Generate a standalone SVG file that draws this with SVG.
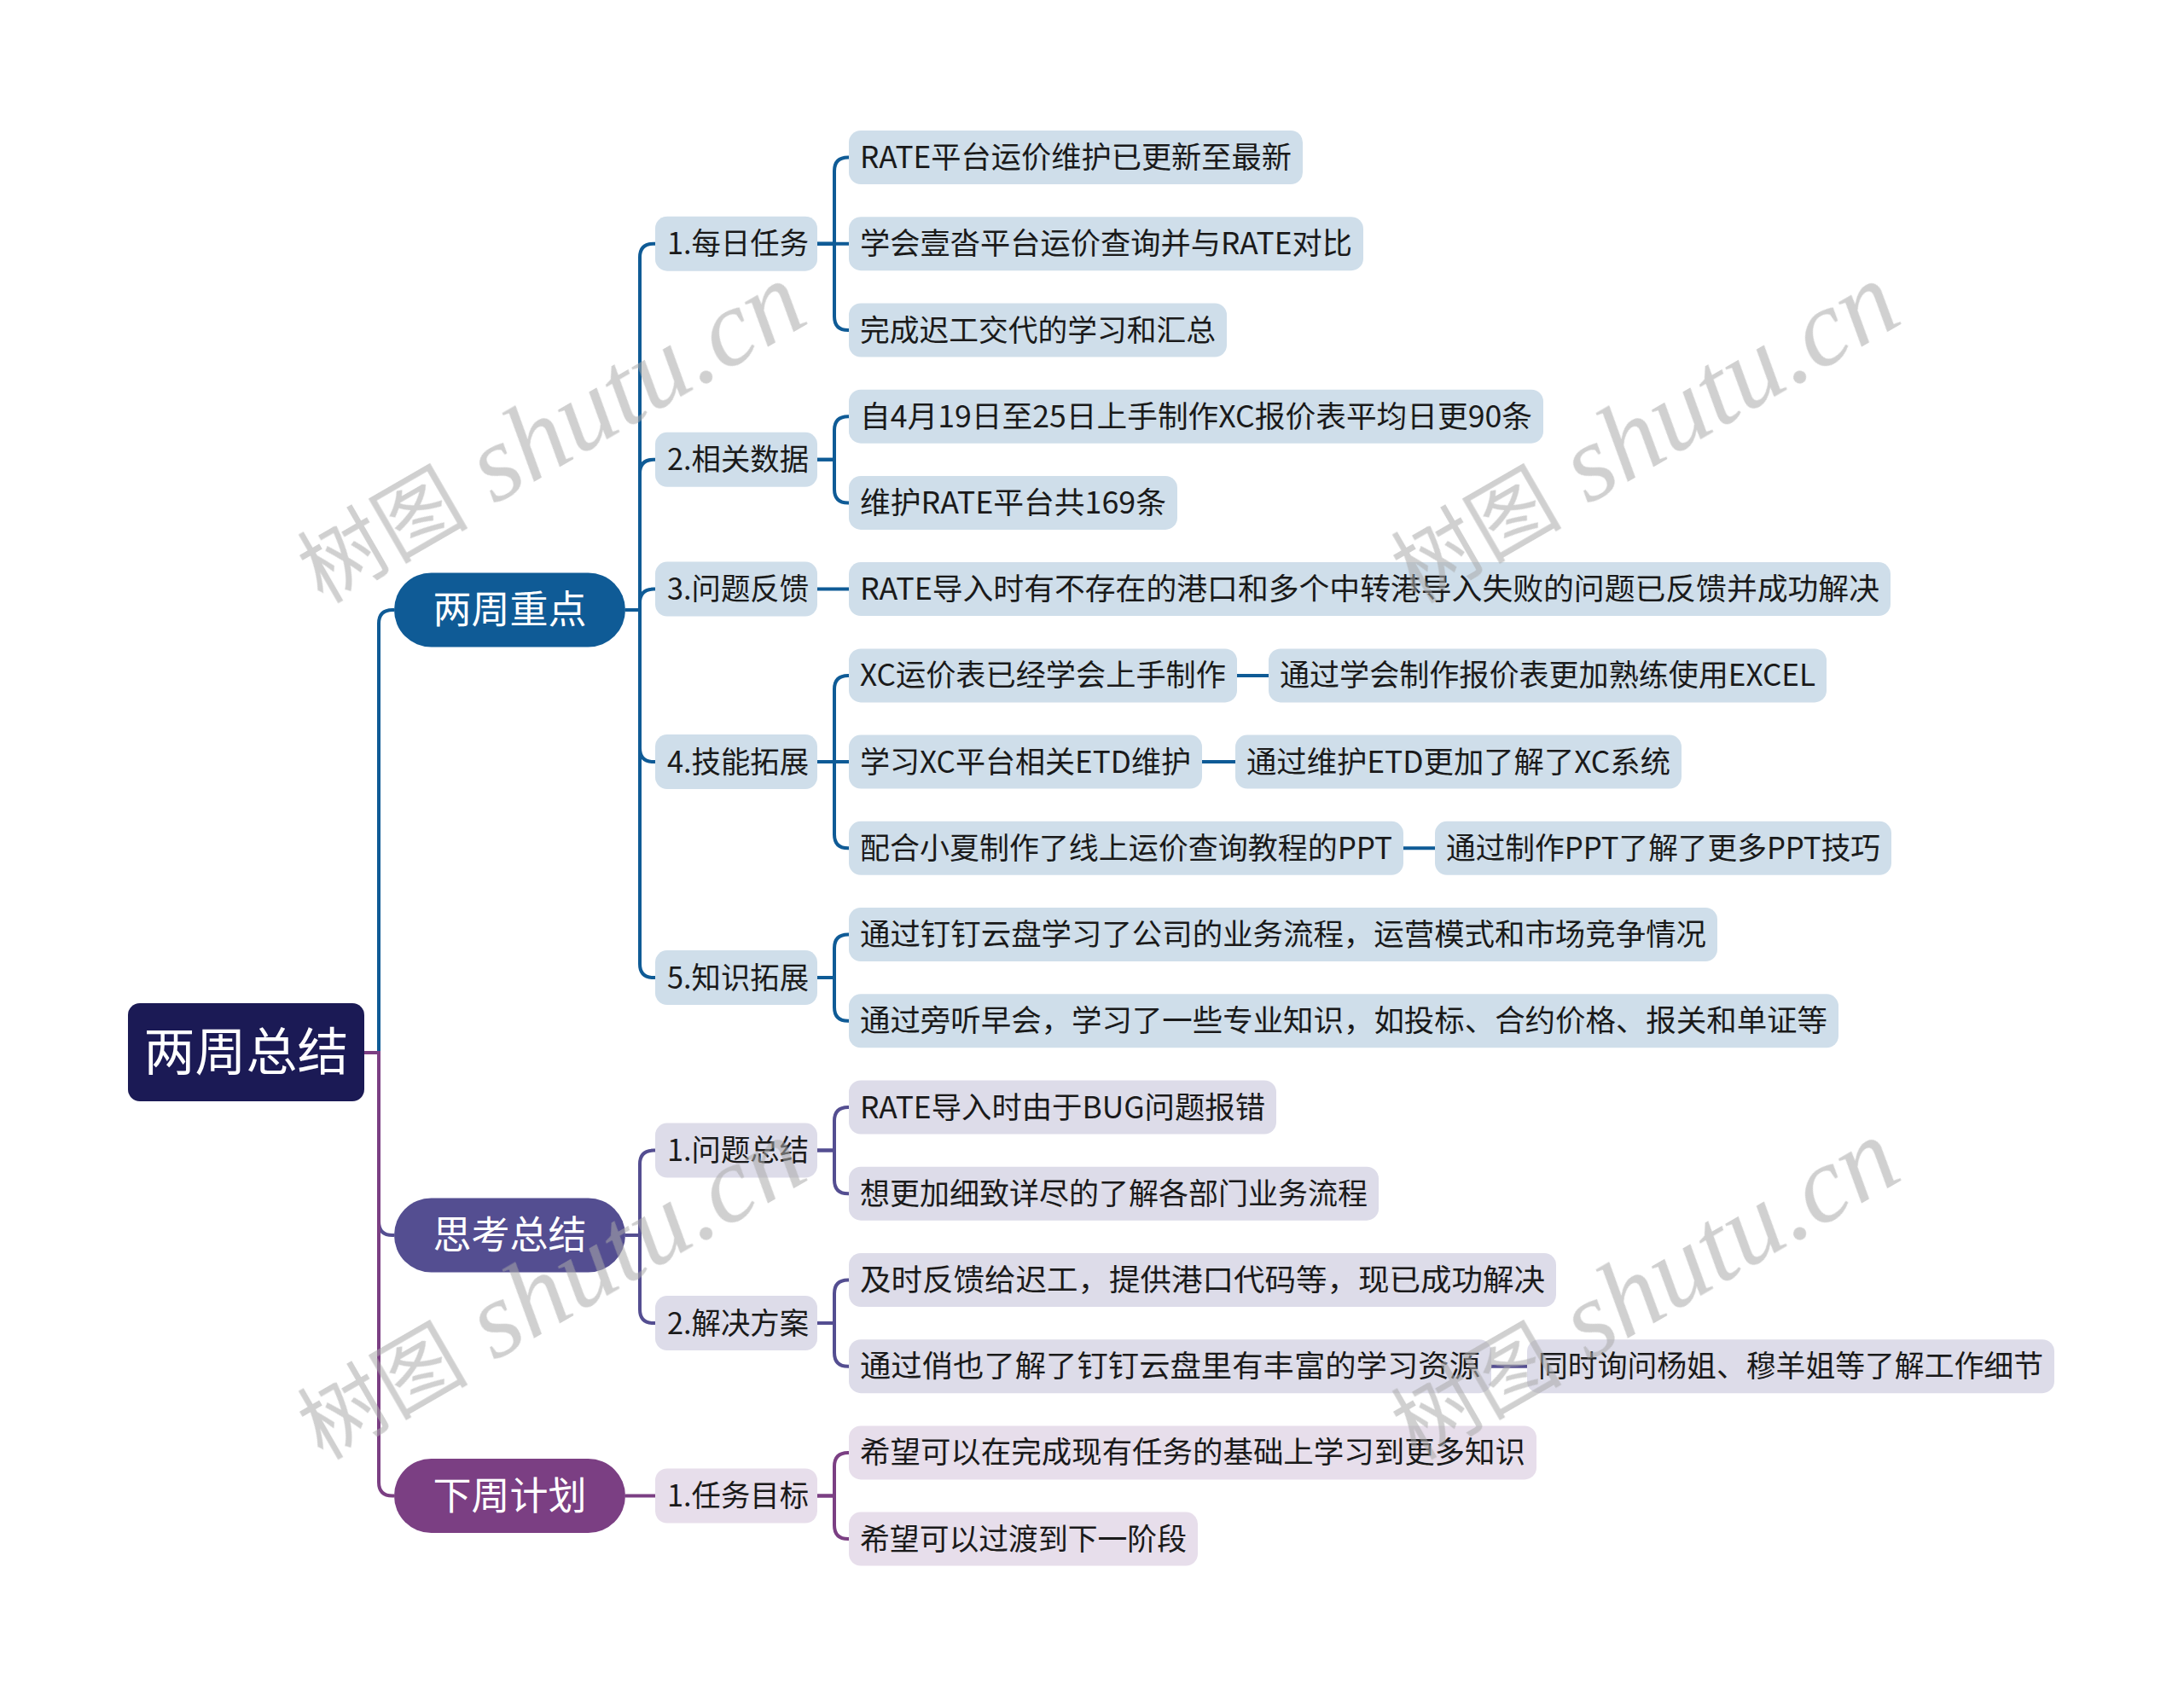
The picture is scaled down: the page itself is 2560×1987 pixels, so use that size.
<svg xmlns="http://www.w3.org/2000/svg" width="2560" height="1987" viewBox="0 0 2560 1987">
<style>
text{font-family:"Noto Sans CJK SC","Noto Sans",sans-serif;}
.t{font-size:35px;fill:#1a1a1a;}
.w{fill:#ffffff;text-anchor:middle;}
.b1{fill:#cfdeea;}
.b2{fill:#dddce9;}
.b3{fill:#e7deeb;}
.l1{fill:none;stroke:#0f5b96;stroke-width:4;}
.l2{fill:none;stroke:#544e91;stroke-width:4;}
.l3{fill:none;stroke:#7b3f83;stroke-width:4;}
.wm{fill:#a9a9a9;opacity:0.55;}
</style>
<rect width="2560" height="1987" fill="#ffffff"/>
<g id="connectors">
<path class="l1" d="M427,1234 H444 V731 Q444,715 460,715 H462"/>
<path class="l2" d="M427,1234 H444 V1432 Q444,1448 460,1448 H462"/>
<path class="l3" d="M427,1234 H444 V1737.5 Q444,1753.5 460,1753.5 H462"/>
<path class="l1" d="M733,715 H750 V301.7 Q750,285.7 766,285.7 H768"/>
<path class="l1" d="M733,715 H750 V554.8 Q750,538.8 766,538.8 H768"/>
<path class="l1" d="M733,715 H750 V706.6 Q750,690.6 766,690.6 H768"/>
<path class="l1" d="M733,715 H750 V877.1 Q750,893.1 766,893.1 H768"/>
<path class="l1" d="M733,715 H750 V1130.1 Q750,1146.1 766,1146.1 H768"/>
<path class="l2" d="M733,1448 H750 V1364.6 Q750,1348.6 766,1348.6 H768"/>
<path class="l2" d="M733,1448 H750 V1535.1 Q750,1551.1 766,1551.1 H768"/>
<path class="l3" d="M733,1753.5 H768"/>
<path class="l1" d="M958,285.7 H978 V200.5 Q978,184.5 994,184.5 H995"/>
<path class="l1" d="M958,285.7 H995"/>
<path class="l1" d="M958,285.7 H978 V371 Q978,387 994,387 H995"/>
<path class="l1" d="M958,538.8 H978 V504.2 Q978,488.2 994,488.2 H995"/>
<path class="l1" d="M958,538.8 H978 V573.4 Q978,589.4 994,589.4 H995"/>
<path class="l1" d="M958,690.6 H995"/>
<path class="l1" d="M958,893.1 H978 V807.9 Q978,791.9 994,791.9 H995"/>
<path class="l1" d="M958,893.1 H995"/>
<path class="l1" d="M958,893.1 H978 V978.3 Q978,994.3 994,994.3 H995"/>
<path class="l1" d="M958,1146.1 H978 V1111.5 Q978,1095.5 994,1095.5 H995"/>
<path class="l1" d="M958,1146.1 H978 V1180.8 Q978,1196.8 994,1196.8 H995"/>
<path class="l2" d="M958,1348.6 H978 V1314 Q978,1298 994,1298 H995"/>
<path class="l2" d="M958,1348.6 H978 V1383.2 Q978,1399.2 994,1399.2 H995"/>
<path class="l2" d="M958,1551.1 H978 V1516.5 Q978,1500.5 994,1500.5 H995"/>
<path class="l2" d="M958,1551.1 H978 V1585.7 Q978,1601.7 994,1601.7 H995"/>
<path class="l3" d="M958,1753.5 H978 V1718.9 Q978,1702.9 994,1702.9 H995"/>
<path class="l3" d="M958,1753.5 H978 V1788.1 Q978,1804.1 994,1804.1 H995"/>
<path class="l1" d="M1450,791.9 H1487"/>
<path class="l1" d="M1409,893.1 H1448"/>
<path class="l1" d="M1645,994.3 H1682"/>
<path class="l2" d="M1748,1601.7 H1790"/>
</g>
<g id="root">
<rect x="150" y="1176" width="277" height="115" rx="14" fill="#1b1a55"/>
<text class="w" x="288.5" y="1255" font-size="60">两周总结</text>
</g>
<g id="b-zhongdian">
<rect x="462" y="671.5" width="271" height="87" rx="43.5" fill="#0f5b96"/>
<text class="w" x="597.5" y="731" font-size="45">两周重点</text>
</g>
<g id="b-sikao">
<rect x="462" y="1404.5" width="271" height="87" rx="43.5" fill="#544e91"/>
<text class="w" x="597.5" y="1464" font-size="45">思考总结</text>
</g>
<g id="b-xiazhou">
<rect x="462" y="1710" width="271" height="87" rx="43.5" fill="#7b3f83"/>
<text class="w" x="597.5" y="1769.5" font-size="45">下周计划</text>
</g>
<g id="s1"><rect class="b1" x="768" y="253.7" width="190" height="64" rx="14"/><text class="t" x="782" y="298.2" textLength="166" lengthAdjust="spacingAndGlyphs">1.每日任务</text></g>
<g id="s2"><rect class="b1" x="768" y="506.8" width="190" height="64" rx="14"/><text class="t" x="782" y="551.3" textLength="166" lengthAdjust="spacingAndGlyphs">2.相关数据</text></g>
<g id="s3"><rect class="b1" x="768" y="658.6" width="190" height="64" rx="14"/><text class="t" x="782" y="703.1" textLength="166" lengthAdjust="spacingAndGlyphs">3.问题反馈</text></g>
<g id="s4"><rect class="b1" x="768" y="861.1" width="190" height="64" rx="14"/><text class="t" x="782" y="905.6" textLength="166" lengthAdjust="spacingAndGlyphs">4.技能拓展</text></g>
<g id="s5"><rect class="b1" x="768" y="1114.1" width="190" height="64" rx="14"/><text class="t" x="782" y="1158.6" textLength="166" lengthAdjust="spacingAndGlyphs">5.知识拓展</text></g>
<g id="s6"><rect class="b2" x="768" y="1316.6" width="190" height="64" rx="14"/><text class="t" x="782" y="1361.1" textLength="166" lengthAdjust="spacingAndGlyphs">1.问题总结</text></g>
<g id="s7"><rect class="b2" x="768" y="1519.1" width="190" height="64" rx="14"/><text class="t" x="782" y="1563.6" textLength="166" lengthAdjust="spacingAndGlyphs">2.解决方案</text></g>
<g id="s8"><rect class="b3" x="768" y="1721.5" width="190" height="64" rx="14"/><text class="t" x="782" y="1766" textLength="166" lengthAdjust="spacingAndGlyphs">1.任务目标</text></g>
<g id="n1"><rect class="b1" x="995" y="153" width="532" height="63" rx="14"/><text class="t" x="1008" y="197" textLength="506" lengthAdjust="spacingAndGlyphs">RATE平台运价维护已更新至最新</text></g>
<g id="n2"><rect class="b1" x="995" y="254.2" width="603" height="63" rx="14"/><text class="t" x="1008" y="298.2" textLength="577" lengthAdjust="spacingAndGlyphs">学会壹沓平台运价查询并与RATE对比</text></g>
<g id="n3"><rect class="b1" x="995" y="355.5" width="443" height="63" rx="14"/><text class="t" x="1008" y="399.5" textLength="417" lengthAdjust="spacingAndGlyphs">完成迟工交代的学习和汇总</text></g>
<g id="n4"><rect class="b1" x="995" y="456.7" width="814" height="63" rx="14"/><text class="t" x="1008" y="500.7" textLength="788" lengthAdjust="spacingAndGlyphs">自4月19日至25日上手制作XC报价表平均日更90条</text></g>
<g id="n5"><rect class="b1" x="995" y="557.9" width="385" height="63" rx="14"/><text class="t" x="1008" y="601.9" textLength="359" lengthAdjust="spacingAndGlyphs">维护RATE平台共169条</text></g>
<g id="n6"><rect class="b1" x="995" y="659.1" width="1221" height="63" rx="14"/><text class="t" x="1008" y="703.1" textLength="1195" lengthAdjust="spacingAndGlyphs">RATE导入时有不存在的港口和多个中转港导入失败的问题已反馈并成功解决</text></g>
<g id="n7"><rect class="b1" x="995" y="760.4" width="455" height="63" rx="14"/><text class="t" x="1008" y="804.4" textLength="429" lengthAdjust="spacingAndGlyphs">XC运价表已经学会上手制作</text></g>
<g id="n7a"><rect class="b1" x="1487" y="760.4" width="654" height="63" rx="14"/><text class="t" x="1500" y="804.4" textLength="628" lengthAdjust="spacingAndGlyphs">通过学会制作报价表更加熟练使用EXCEL</text></g>
<g id="n8"><rect class="b1" x="995" y="861.6" width="414" height="63" rx="14"/><text class="t" x="1008" y="905.6" textLength="388" lengthAdjust="spacingAndGlyphs">学习XC平台相关ETD维护</text></g>
<g id="n8a"><rect class="b1" x="1448" y="861.6" width="523" height="63" rx="14"/><text class="t" x="1461" y="905.6" textLength="497" lengthAdjust="spacingAndGlyphs">通过维护ETD更加了解了XC系统</text></g>
<g id="n9"><rect class="b1" x="995" y="962.8" width="650" height="63" rx="14"/><text class="t" x="1008" y="1006.8" textLength="624" lengthAdjust="spacingAndGlyphs">配合小夏制作了线上运价查询教程的PPT</text></g>
<g id="n9a"><rect class="b1" x="1682" y="962.8" width="535" height="63" rx="14"/><text class="t" x="1695" y="1006.8" textLength="509" lengthAdjust="spacingAndGlyphs">通过制作PPT了解了更多PPT技巧</text></g>
<g id="n10"><rect class="b1" x="995" y="1064" width="1018" height="63" rx="14"/><text class="t" x="1008" y="1108" textLength="992" lengthAdjust="spacingAndGlyphs">通过钉钉云盘学习了公司的业务流程，运营模式和市场竞争情况</text></g>
<g id="n11"><rect class="b1" x="995" y="1165.3" width="1160" height="63" rx="14"/><text class="t" x="1008" y="1209.3" textLength="1134" lengthAdjust="spacingAndGlyphs">通过旁听早会，学习了一些专业知识，如投标、合约价格、报关和单证等</text></g>
<g id="n12"><rect class="b2" x="995" y="1266.5" width="501" height="63" rx="14"/><text class="t" x="1008" y="1310.5" textLength="475" lengthAdjust="spacingAndGlyphs">RATE导入时由于BUG问题报错</text></g>
<g id="n13"><rect class="b2" x="995" y="1367.7" width="621" height="63" rx="14"/><text class="t" x="1008" y="1411.7" textLength="595" lengthAdjust="spacingAndGlyphs">想更加细致详尽的了解各部门业务流程</text></g>
<g id="n14"><rect class="b2" x="995" y="1469" width="829" height="63" rx="14"/><text class="t" x="1008" y="1513" textLength="803" lengthAdjust="spacingAndGlyphs">及时反馈给迟工，提供港口代码等，现已成功解决</text></g>
<g id="n15"><rect class="b2" x="995" y="1570.2" width="753" height="63" rx="14"/><text class="t" x="1008" y="1614.2" textLength="727" lengthAdjust="spacingAndGlyphs">通过俏也了解了钉钉云盘里有丰富的学习资源</text></g>
<g id="n15a"><rect class="b2" x="1790" y="1570.2" width="618" height="63" rx="14"/><text class="t" x="1803" y="1614.2" textLength="592" lengthAdjust="spacingAndGlyphs">同时询问杨姐、穆羊姐等了解工作细节</text></g>
<g id="n16"><rect class="b3" x="995" y="1671.4" width="806" height="63" rx="14"/><text class="t" x="1008" y="1715.4" textLength="780" lengthAdjust="spacingAndGlyphs">希望可以在完成现有任务的基础上学习到更多知识</text></g>
<g id="n17"><rect class="b3" x="995" y="1772.6" width="409" height="63" rx="14"/><text class="t" x="1008" y="1816.6" textLength="383" lengthAdjust="spacingAndGlyphs">希望可以过渡到下一阶段</text></g>
<g id="watermarks" class="wm">
<text transform="translate(378,708) rotate(-30)"><tspan font-size="100">树图</tspan><tspan font-family="Liberation Serif" font-style="italic" font-size="128"> shutu.cn</tspan></text>
<text transform="translate(1660,708) rotate(-30)"><tspan font-size="100">树图</tspan><tspan font-family="Liberation Serif" font-style="italic" font-size="128"> shutu.cn</tspan></text>
<text transform="translate(378,1712) rotate(-30)"><tspan font-size="100">树图</tspan><tspan font-family="Liberation Serif" font-style="italic" font-size="128"> shutu.cn</tspan></text>
<text transform="translate(1660,1712) rotate(-30)"><tspan font-size="100">树图</tspan><tspan font-family="Liberation Serif" font-style="italic" font-size="128"> shutu.cn</tspan></text>
</g>
</svg>
